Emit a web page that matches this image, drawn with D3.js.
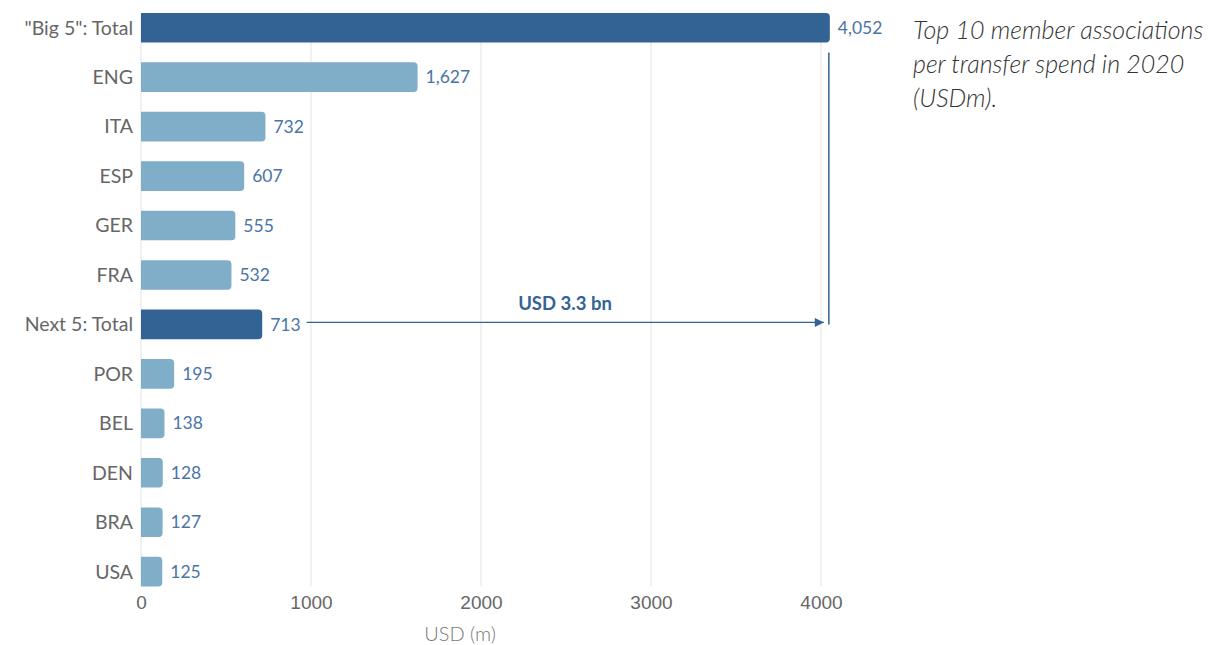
<!DOCTYPE html>
<html>
<head>
<meta charset="utf-8">
<script src="https://cdn.jsdelivr.net/npm/d3@7"></script>
<style>
  body { margin: 0; background: #fff; font-family: "Source Sans Pro", Lato, sans-serif; }
  .cat { fill: #666; font-size: 19.5px; }
  .val { fill: #4a74a6; font-size: 17.5px; }
  .tick text { fill: #666; font-size: 19px; }
  .note { fill: #333; font-size: 25px; font-style: italic; font-weight: 300; }
</style>
</head>
<body>
<script>
// transfer spend per member association, 2020 (USDm)
const categories = ['"Big 5": Total', "ENG", "ITA", "ESP", "GER", "FRA",
                    "Next 5: Total", "POR", "BEL", "DEN", "BRA", "USA"];
const spend = [4052, 1627, 732, 607, 555, 532, 713, 195, 138, 128, 127, 125];
const totals = ['"Big 5": Total', "Next 5: Total"];
const xTicks = [0, 1000, 2000, 3000, 4000];
const noteLines = ["Top 10 member associations", "per transfer spend in 2020", "(USDm)."];
const gapLabel = "USD 3.3 bn";
const axisTitle = "USD (m)";

const W = 1208, H = 645;
const M = { left: 141, top: 3, right: 387 };

const svg = d3.select("body").append("svg")
    .attr("width", W)
    .attr("height", H);

const x = d3.scaleLinear().domain([0, 4000]).range([M.left, M.left + 680]);
const y = d3.scaleBand().domain(categories)
    .range([M.top, M.top + 593.4])
    .paddingInner(0.4)
    .paddingOuter(0.2);

const gridTop = y(categories[0]);
const gridBottom = y(categories[categories.length - 1]) + y.bandwidth();

// grid lines
svg.append("g")
    .selectAll("line")
    .data(xTicks)
    .join("line")
    .attr("x1", d => x(d)).attr("x2", d => x(d))
    .attr("y1", gridTop).attr("y2", gridBottom)
    .attr("stroke", "#e3e3e3")
    .attr("stroke-width", 1);

// x axis (labels only)
const xAxis = svg.append("g")
    .attr("transform", `translate(0,${gridBottom + 5})`)
    .call(d3.axisBottom(x).tickValues(xTicks).tickFormat(d3.format("d")).tickSize(0).tickPadding(4))
    .call(g => g.select(".domain").remove());
xAxis.selectAll("text").attr("font-family", null);

svg.append("text")
    .attr("x", 460).attr("y", 641)
    .attr("text-anchor", "middle")
    .attr("fill", "#777")
    .attr("font-size", 20)
    .attr("font-weight", 300)
    .text(axisTitle);

// bars with rounded right end
const r = 4;
const barPath = (v, c) => {
    const x0 = x(0), x1 = x(v), y0 = y(c), h = y.bandwidth();
    return `M${x0},${y0}H${x1 - r}Q${x1},${y0} ${x1},${y0 + r}V${y0 + h - r}Q${x1},${y0 + h} ${x1 - r},${y0 + h}H${x0}Z`;
};

svg.append("g")
    .selectAll("path")
    .data(categories)
    .join("path")
    .attr("d", (c, i) => barPath(spend[i], c))
    .attr("fill", c => totals.includes(c) ? "#336294" : "#80aec8");

// category labels
svg.append("g")
    .selectAll("text")
    .data(categories)
    .join("text")
    .attr("class", "cat")
    .attr("x", M.left - 8)
    .attr("y", c => y(c) + y.bandwidth() / 2)
    .attr("dy", "0.35em")
    .attr("text-anchor", "end")
    .text(c => c);

// value labels
const fmt = d3.format(",");
const vals = svg.append("g")
    .selectAll("text")
    .data(categories)
    .join("text")
    .attr("class", "val")
    .attr("x", (c, i) => x(spend[i]) + 8)
    .attr("y", c => y(c) + y.bandwidth() / 2)
    .attr("dy", "0.35em")
    .text((c, i) => fmt(spend[i]));

// gap annotation between the two totals
const bigIdx = categories.indexOf(totals[0]);
const nextIdx = categories.indexOf(totals[1]);
const nextLabel = vals.filter((c, i) => i === nextIdx).node();
const arrowStart = x(spend[nextIdx]) + 8 + nextLabel.getComputedTextLength() + 6;
const arrowEnd = x(spend[bigIdx]) - 6;
const arrowY = y(totals[1]) + y.bandwidth() / 2 - 2;
const vLineX = x(spend[bigIdx]) - 1;

svg.append("defs").append("marker")
    .attr("id", "arrow")
    .attr("viewBox", "0 0 10 10")
    .attr("refX", 10).attr("refY", 5)
    .attr("markerWidth", 10).attr("markerHeight", 9)
    .attr("markerUnits", "userSpaceOnUse")
    .attr("orient", "auto")
    .append("path")
    .attr("d", "M0,0L10,5L0,10Z")
    .attr("fill", "#336294");

svg.append("line")
    .attr("x1", arrowStart).attr("x2", arrowEnd)
    .attr("y1", arrowY).attr("y2", arrowY)
    .attr("stroke", "#336294").attr("stroke-width", 1.3)
    .attr("marker-end", "url(#arrow)");

svg.append("line")
    .attr("x1", vLineX).attr("x2", vLineX)
    .attr("y1", y(totals[0]) + y.bandwidth() + 10)
    .attr("y2", arrowY + 2)
    .attr("stroke", "#336294").attr("stroke-width", 1.5);

svg.append("text")
    .attr("x", 565).attr("y", arrowY - 12)
    .attr("text-anchor", "middle")
    .attr("fill", "#336294")
    .attr("font-size", 18.5)
    .attr("font-weight", "bold")
    .text(gapLabel);

// side note
svg.append("g")
    .selectAll("text")
    .data(noteLines)
    .join("text")
    .attr("class", "note")
    .attr("x", 913)
    .attr("y", (d, i) => 39 + i * 34)
    .text(d => d);
</script>
</body>
</html>
